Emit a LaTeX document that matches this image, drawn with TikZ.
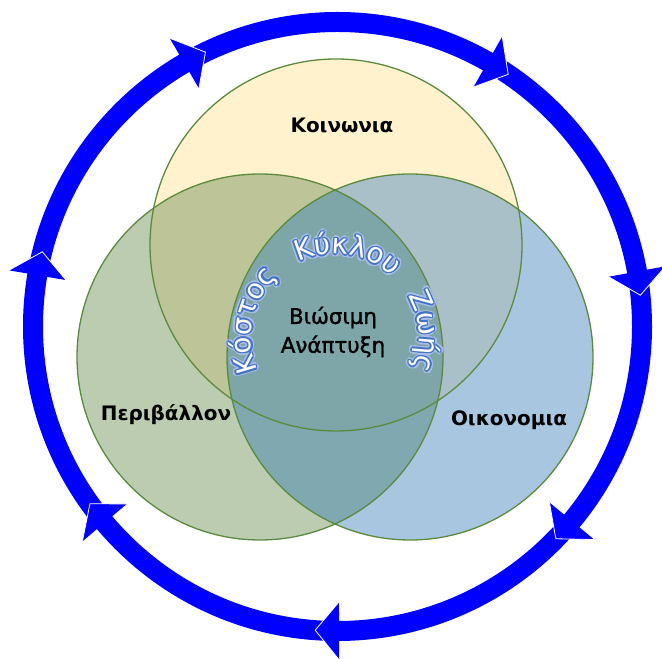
\documentclass[tikz,border=0pt]{standalone}
\usepackage{fontspec}
\setmainfont{DejaVu Sans}
\newfontfamily\semibfont[FakeBold=1.3]{DejaVu Sans}
\usetikzlibrary{decorations.text}
\definecolor{ringblue}{HTML}{0000FF}
\definecolor{topc}{HTML}{FFF2CC}
\definecolor{leftc}{HTML}{BBCCB0}
\definecolor{rightc}{HTML}{A9C6E0}
\definecolor{tlc}{HTML}{BCC498}
\definecolor{trc}{HTML}{A9C0C8}
\definecolor{lrc}{HTML}{7FA8B0}
\definecolor{allc}{HTML}{7EA6A9}
\definecolor{vline}{HTML}{5B8A3F}
\definecolor{glowc}{HTML}{A9BEE6}
\definecolor{outc}{HTML}{4472C4}
\newcommand\ctfont{\fontsize{28}{32}\selectfont}
\newcommand\curvetext[3]{%
  \pgfmathsetmacro\cdx{#1}\pgfmathsetmacro\cdy{#2}%
  \path[decorate, decoration={text along path, text color=#3, text align={fit to path stretching spaces},
    text={|\ctfont|Κόστος Κύκλου Ζωής}}]
    ([shift={(\cdx,\cdy)}]tc) ++(203:84bp) arc[start angle=203, end angle=-22, radius=84bp];}
\begin{document}
\begin{tikzpicture}[x=1bp,y=1bp,
  ringline/.style={draw=ringblue, line width=20bp},
  vennline/.style={draw=vline, line width=1.3bp},
  lab/.style={font=\fontsize{20}{24}\selectfont\bfseries, text=black},
  core/.style={font=\semibfont\fontsize{21.5}{29}\selectfont, text=black, align=center}]
\useasboundingbox (0,0) rectangle (662,659);
% ring
\coordinate (rc) at (337.5,332.5);
\draw[ringline] (rc) circle[radius=304.5];
\begin{scope}[shift={(rc)}]
\foreach \t in {115.7,55.9,5.9,-44.2,-94.2,215.6,165.8}{
  \fill[ringblue] (\t+4.5:333.5bp) -- (\t:304.5bp) -- (\t+4.5:275.5bp) -- cycle;
  \draw[white, line width=0.8bp, line join=miter] (\t+4.5:333.5bp) -- (\t:304.5bp) -- (\t+4.5:275.5bp);
}
\end{scope}
% venn
\coordinate (ct) at (336,414);
\coordinate (cl) at (260,302);
\coordinate (cr) at (410,302);
\fill[leftc] (cl) circle[radius=183];
\fill[rightc] (cr) circle[radius=183];
\fill[topc] (ct) circle[radius=186];
\begin{scope}
  \clip (ct) circle[radius=186];
  \fill[tlc] (cl) circle[radius=183];
  \fill[trc] (cr) circle[radius=183];
\end{scope}
\begin{scope}
  \clip (cl) circle[radius=183];
  \fill[lrc] (cr) circle[radius=183];
  \clip (ct) circle[radius=186];
  \fill[allc] (cr) circle[radius=183];
\end{scope}
\draw[vennline] (ct) circle[radius=186];
\draw[vennline] (cl) circle[radius=183];
\draw[vennline] (cr) circle[radius=183];
% labels
\node[lab] (soc) at (342,534) {Κοινωνια};
\node[lab] (env) at (166,244) {Περιβάλλον};
\node[lab] (eco) at (509,239) {Οικονομια};
\node[core] (sd) at (333,327) {Βιώσιμη\\Ανάπτυξη};
% curved text
\coordinate (tc) at (335,321);
\foreach \a in {0,30,...,330}{\curvetext{3*cos(\a)}{3*sin(\a)}{glowc}}
\foreach \a in {0,45,...,315}{\curvetext{1.5*cos(\a)}{1.5*sin(\a)}{outc}}
\curvetext{0}{0}{white}
\end{tikzpicture}
\end{document}
